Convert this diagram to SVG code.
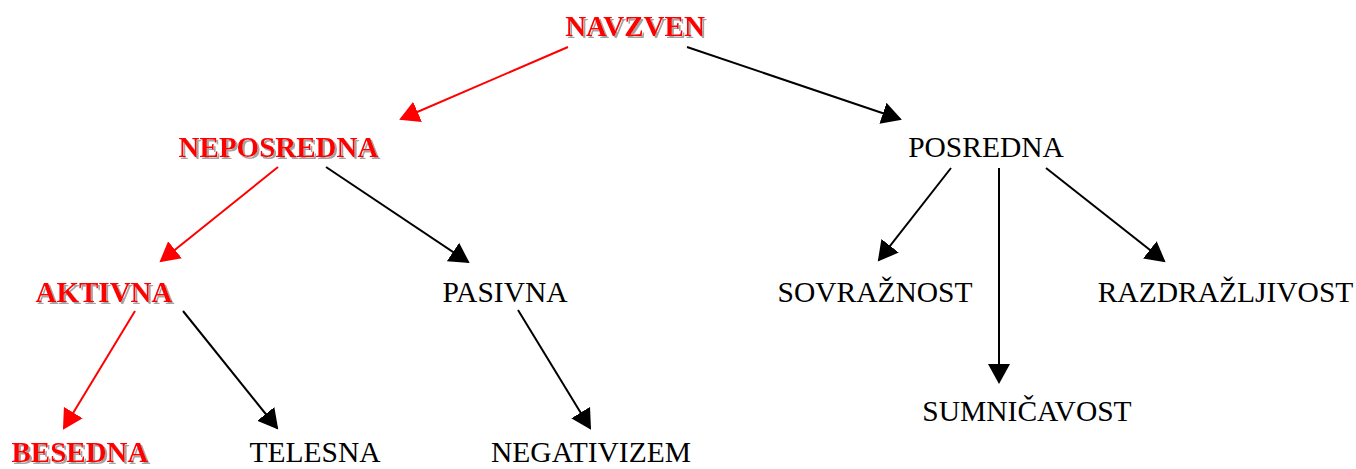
<svg xmlns="http://www.w3.org/2000/svg" width="1356" height="469" viewBox="0 0 1356 469">
<defs>
<style>
text{font-family:"Liberation Serif","Times New Roman",serif;font-size:29.5px;text-anchor:middle}
.r{fill:#ff0000;font-weight:bold;font-size:29px;filter:url(#sh)}
.b{fill:#000}
.cr{stroke:#ff0000;stroke-width:2;fill:none;marker-end:url(#ar)}
.cb{stroke:#000;stroke-width:2;fill:none;marker-end:url(#ab)}
</style>
<filter id="sh" x="-10%" y="-30%" width="120%" height="160%">
<feDropShadow dx="2" dy="2" stdDeviation="0.6" flood-color="#9a9a9a" flood-opacity="0.9"/>
</filter>
<marker id="ar" markerUnits="userSpaceOnUse" markerWidth="22" markerHeight="24" viewBox="0 -12 22 24" refX="18" refY="0" orient="auto">
<path d="M0,-11 L20,0 L0,11 z" fill="#ff0000"/>
</marker>
<marker id="ab" markerUnits="userSpaceOnUse" markerWidth="22" markerHeight="24" viewBox="0 -12 22 24" refX="18" refY="0" orient="auto">
<path d="M0,-11 L20,0 L0,11 z" fill="#000"/>
</marker>
</defs>
<rect width="1356" height="469" fill="#fff"/>
<g id="connectors">
<line class="cr" x1="568" y1="47" x2="401" y2="119"/>
<line class="cb" x1="687" y1="47" x2="900" y2="119"/>
<line class="cr" x1="278" y1="167" x2="161" y2="261"/>
<line class="cb" x1="326" y1="167" x2="468" y2="262"/>
<line class="cr" x1="135" y1="311" x2="64" y2="428"/>
<line class="cb" x1="183" y1="311" x2="277" y2="428"/>
<line class="cb" x1="518" y1="310" x2="590" y2="428"/>
<line class="cb" x1="951" y1="168" x2="879" y2="260"/>
<line class="cb" x1="999" y1="168" x2="999" y2="382"/>
<line class="cb" x1="1046" y1="168" x2="1164" y2="261"/>
</g>
<g id="navzven"><text class="r" x="635" y="36">NAVZVEN</text></g>
<g id="neposredna"><text class="r" x="278.5" y="157">NEPOSREDNA</text></g>
<g id="posredna"><text class="b" x="986" y="157">POSREDNA</text></g>
<g id="aktivna"><text class="r" x="104" y="302">AKTIVNA</text></g>
<g id="pasivna"><text class="b" x="505" y="302">PASIVNA</text></g>
<g id="sovraznost"><text class="b" x="875" y="302">SOVRAŽNOST</text></g>
<g id="razdrazljivost"><text class="b" x="1225.5" y="302">RAZDRAŽLJIVOST</text></g>
<g id="sumnicavost"><text class="b" x="1027" y="421">SUMNIČAVOST</text></g>
<g id="besedna"><text class="r" x="80" y="462">BESEDNA</text></g>
<g id="telesna"><text class="b" x="315" y="462">TELESNA</text></g>
<g id="negativizem"><text class="b" x="591" y="462">NEGATIVIZEM</text></g>
</svg>
